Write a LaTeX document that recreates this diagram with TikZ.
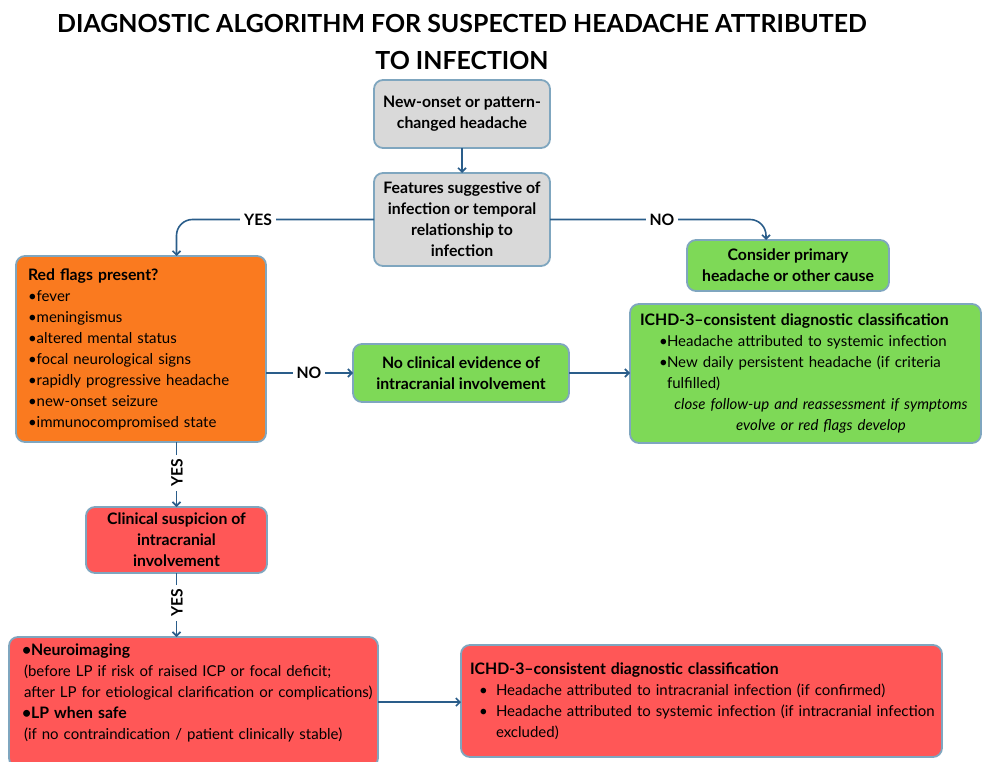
\documentclass[tikz,border=0pt]{standalone}
\usepackage{fontspec}
\setmainfont{Lato}
\usetikzlibrary{arrows.meta}
\definecolor{greyfill}{HTML}{D9D9D9}
\definecolor{edgec}{HTML}{7FA6BF}
\definecolor{arrowc}{HTML}{2A5D8A}
\definecolor{greenfill}{HTML}{7ED957}
\definecolor{orangefill}{HTML}{FA7A1F}
\definecolor{redfill}{HTML}{FF5757}
\newcommand\fs[1]{\fontsize{#1}{21}\selectfont}
\newcommand\bh[1]{{\fs{15.8}\textbf{#1}}}
\begin{document}
\begin{tikzpicture}[x=1pt,y=-1pt,
  box/.style={draw=edgec,line width=1.8pt,rounded corners=9pt,inner sep=0pt,outer sep=0pt},
  conn/.style={draw=arrowc,line width=1.6pt,-{Straight Barb[length=4pt,width=8pt]}},
  lbl/.style={fill=white,inner xsep=4pt,inner ysep=1pt,font=\bfseries\fs{15.7}},
  boldtext/.style={align=center,font=\bfseries\fs{15.8}},
  plaintext/.style={align=left,font=\fs{15}},
]
\useasboundingbox (0,0) rectangle (982,762);
\node[font=\bfseries\fontsize{24.9}{37}\selectfont, align=center] (title) at (462,42) {DIAGNOSTIC ALGORITHM FOR SUSPECTED HEADACHE ATTRIBUTED\\TO INFECTION};

\node[box,fill=greyfill,minimum width=176pt,minimum height=68pt,boldtext] (b1) at (462,114) {New-onset or pattern-\\changed headache};
\node[box,fill=greyfill,minimum width=176pt,minimum height=93pt,boldtext] (b2) at (462,219.5) {Features suggestive of\\infection or temporal\\relationship to\\infection};
\node[box,fill=greenfill,minimum width=202pt,minimum height=51pt,boldtext] (cons) at (788,265.5) {Consider primary\\headache or other cause};
\node[box,fill=orangefill,minimum width=250pt,minimum height=186pt,text width=226pt,plaintext] (rf) at (141,349) {\bh{Red flags present?}\\•fever\\•meningismus\\•altered mental status\\•focal neurological signs\\•rapidly progressive headache\\•new-onset seizure\\•immunocompromised state};
\node[box,fill=greenfill,minimum width=216pt,minimum height=58pt,boldtext] (nc) at (461,373) {No clinical evidence of\\intracranial involvement};
\node[box,fill=greenfill,minimum width=351pt,minimum height=139pt,text width=331pt,plaintext] (ig) at (805.5,373.5) {\bh{ICHD-3–consistent diagnostic classification}\\
\hspace*{19pt}\makebox[8pt][l]{•}Headache attributed to systemic infection\\
\hspace*{19pt}\makebox[8pt][l]{•}New daily persistent headache (if criteria\\
\hspace*{27pt}fulfilled)\\
\hspace*{26pt}\makebox[310pt][c]{\itshape close follow-up and reassessment if symptoms}\\
\hspace*{26pt}\makebox[310pt][c]{\itshape evolve or red flags develop}};
\node[box,fill=redfill,minimum width=181pt,minimum height=66pt,boldtext] (cs) at (176.5,540) {Clinical suspicion of\\intracranial\\involvement};
\node[box,fill=redfill,minimum width=369pt,minimum height=130pt,text width=343pt,plaintext] (ni) at (193.5,702) {\bh{•Neuroimaging}\\
\mbox{\hspace*{2pt}(before LP if risk of raised ICP or focal deficit;}\\
\mbox{\hspace*{2pt}after LP for etiological clarification or complications)}\\
\bh{•LP when safe}\\
\mbox{\hspace*{2pt}(if no contraindication / patient clinically stable)}\\ \mbox{}};
\node[box,fill=redfill,minimum width=481pt,minimum height=112pt,text width=463pt,plaintext] (ir) at (701.5,701) {\bh{ICHD-3–consistent diagnostic classification}\\
\mbox{\hspace*{9pt}\makebox[17pt][l]{•}Headache attributed to intracranial infection (if confirmed)}\\
\mbox{\hspace*{9pt}\makebox[17pt][l]{•}Headache attributed to systemic infection (if intracranial infection}\\
\hspace*{26pt}excluded)};

\draw[conn] (b1) -- (b2);
\draw[conn,rounded corners=16pt] (b2.west) -| (cs.north |- rf.north);
\node[lbl] (yes1) at (258,219.5) {YES};
\draw[conn,rounded corners=16pt] (b2.east) -| ([xshift=-22pt]cons.north);
\node[lbl] (no1) at (662,219.5) {NO};
\draw[conn] (rf.east |- nc.west) -- (nc.west);
\node[lbl] (no2) at (309,373) {NO};
\draw[conn] (nc.east) -- (nc.east -| ig.west);
\draw[conn] (cs.north |- rf.south) -- (cs.north);
\node[lbl,rotate=90] (yes2) at (177,473) {YES};
\draw[conn] (cs.south) -- (cs.south |- ni.north);
\node[lbl,rotate=90] (yes3) at (177,603) {YES};
\draw[conn] (ni.east) -- (ni.east -| ir.west);
\end{tikzpicture}
\end{document}
